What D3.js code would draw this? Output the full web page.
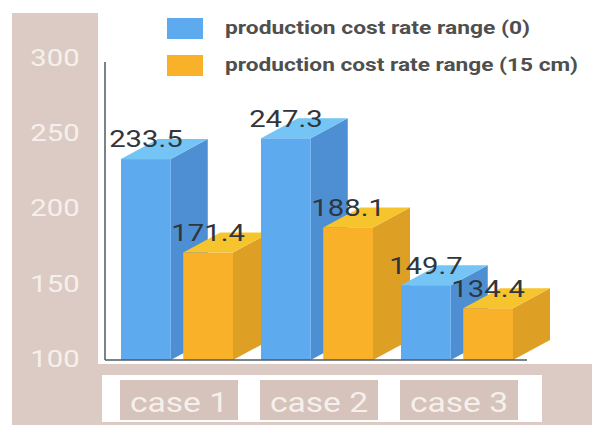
<!DOCTYPE html>
<html>
<head>
<meta charset="utf-8">
<script src="https://cdn.jsdelivr.net/npm/d3@7"></script>
<style>
  html, body { margin: 0; padding: 0; background: #ffffff; }
  svg { display: block; }
</style>
</head>
<body>
<div id="chart"></div>
<script>
// ---- data ----
const categories = ["case 1", "case 2", "case 3"];
const seriesNames = ["production cost rate range (0)", "production cost rate range (15 cm)"];
const seriesKeys = ["s0", "s15"];
const valuesS0 = [233.5, 247.3, 149.7];
const valuesS15 = [171.4, 188.1, 134.4];
const yTicks = [100, 150, 200, 250, 300];

// ---- styles ----
const W = 592, H = 425;
const beige = "#dccbc4";
const beigeDark = "#d5c3bc";
const colors = {
  s0:  { front: "#5eaaef", side: "#4d8fd2", top: "#74c5f5" },
  s15: { front: "#fab12a", side: "#dda024", top: "#f6c52e" }
};
const depthX = 37, depthY = 20;
const stretch = 1.22;

const svg = d3.select("#chart").append("svg")
  .attr("width", W).attr("height", H);

// backgrounds
svg.append("rect").attr("x", 12).attr("y", 13).attr("width", 86).attr("height", H - 13).attr("fill", beige);
svg.append("rect").attr("x", 12).attr("y", 364).attr("width", W - 12).attr("height", H - 364).attr("fill", beige);
svg.append("rect").attr("x", 102).attr("y", 375).attr("width", 440).attr("height", 47).attr("fill", "#ffffff");

// scales
const y = d3.scaleLinear().domain([100, 300]).range([360, 59]);
const x = d3.scaleBand().domain(categories).range([107, 527]).paddingInner(0.2).paddingOuter(0.1);
const xs = d3.scaleBand().domain(seriesKeys).range([0, x.bandwidth()]).paddingInner(0.2).paddingOuter(0);

// y axis labels
const yAxis = d3.axisLeft(y).tickValues(yTicks).tickSize(0).tickFormat(d3.format("d"));
const gy = svg.append("g").attr("transform", "translate(55,-2)").call(yAxis);
gy.select(".domain").remove();
gy.selectAll("text")
  .attr("x", 0).attr("dy", "0.35em")
  .attr("text-anchor", "middle")
  .attr("transform", `scale(${stretch},1)`)
  .style("font-family", "Roboto, sans-serif")
  .style("font-size", "24px")
  .attr("fill", "#f6f0ec");

// bars
const rows = categories.map((c, i) => ({ cat: c, s0: valuesS0[i], s15: valuesS15[i] }));
const yb = y(100);
const bars = [];
rows.forEach(r => seriesKeys.forEach(k => bars.push({ cat: r.cat, key: k, value: r[k] })));

const gBars = svg.append("g");
bars.forEach(b => {
  const x0 = x(b.cat) + xs(b.key);
  const w = xs.bandwidth();
  const yt = y(b.value);
  const c = colors[b.key];
  const g = gBars.append("g");
  g.append("polygon")
    .attr("points", [[x0 + w, yt], [x0 + w + depthX, yt - depthY], [x0 + w + depthX, yb - depthY], [x0 + w, yb]].map(p => p.join(",")).join(" "))
    .attr("fill", c.side);
  g.append("polygon")
    .attr("points", [[x0, yt], [x0 + depthX, yt - depthY], [x0 + w + depthX, yt - depthY], [x0 + w, yt]].map(p => p.join(",")).join(" "))
    .attr("fill", c.top);
  g.append("rect")
    .attr("x", x0).attr("y", yt).attr("width", w).attr("height", yb - yt)
    .attr("fill", c.front);
});

// axis lines
svg.append("line").attr("x1", 105).attr("x2", 105).attr("y1", y(300) + 3).attr("y2", yb)
  .attr("stroke", "#4f5a63").attr("stroke-width", 1.5);
svg.append("line").attr("x1", 105).attr("x2", 527).attr("y1", yb).attr("y2", yb)
  .attr("stroke", "#4f5a63").attr("stroke-width", 1.5);

// value labels
bars.forEach(b => {
  const cx = x(b.cat) + xs(b.key) + xs.bandwidth() / 2;
  const cy = y(b.value) - depthY;
  svg.append("text")
    .attr("transform", `translate(${cx},${cy}) scale(${stretch},1)`)
    .attr("text-anchor", "middle").attr("dy", "0.35em")
    .style("font-family", "Roboto, sans-serif").style("font-size", "24px")
    .attr("fill", "#2f363d")
    .text(b.value.toFixed(1));
});

// category label boxes
categories.forEach(c => {
  const cx = x(c) + x.bandwidth() / 2 + 2;
  svg.append("rect").attr("x", cx - 59).attr("y", 380).attr("width", 118).attr("height", 40).attr("fill", beigeDark);
  svg.append("text")
    .attr("transform", `translate(${cx},412) scale(1.2,1)`)
    .attr("text-anchor", "middle")
    .style("font-family", "Roboto, sans-serif").style("font-size", "28px")
    .attr("fill", "#f6f0ec")
    .text(c);
});

// legend
const legendY = [27, 64];
seriesKeys.forEach((k, i) => {
  svg.append("rect").attr("x", 167).attr("y", legendY[i] - 9).attr("width", 36).attr("height", 21)
    .attr("fill", colors[k].front);
  svg.append("text")
    .attr("x", 225).attr("y", legendY[i]).attr("dy", "0.35em")
    .attr("textLength", i === 0 ? 305 : 353).attr("lengthAdjust", "spacingAndGlyphs")
    .style("font-family", "Roboto, sans-serif").style("font-size", "19px").style("font-weight", "bold")
    .attr("fill", "#4f4f4f")
    .text(seriesNames[i]);
});
</script>
</body>
</html>
